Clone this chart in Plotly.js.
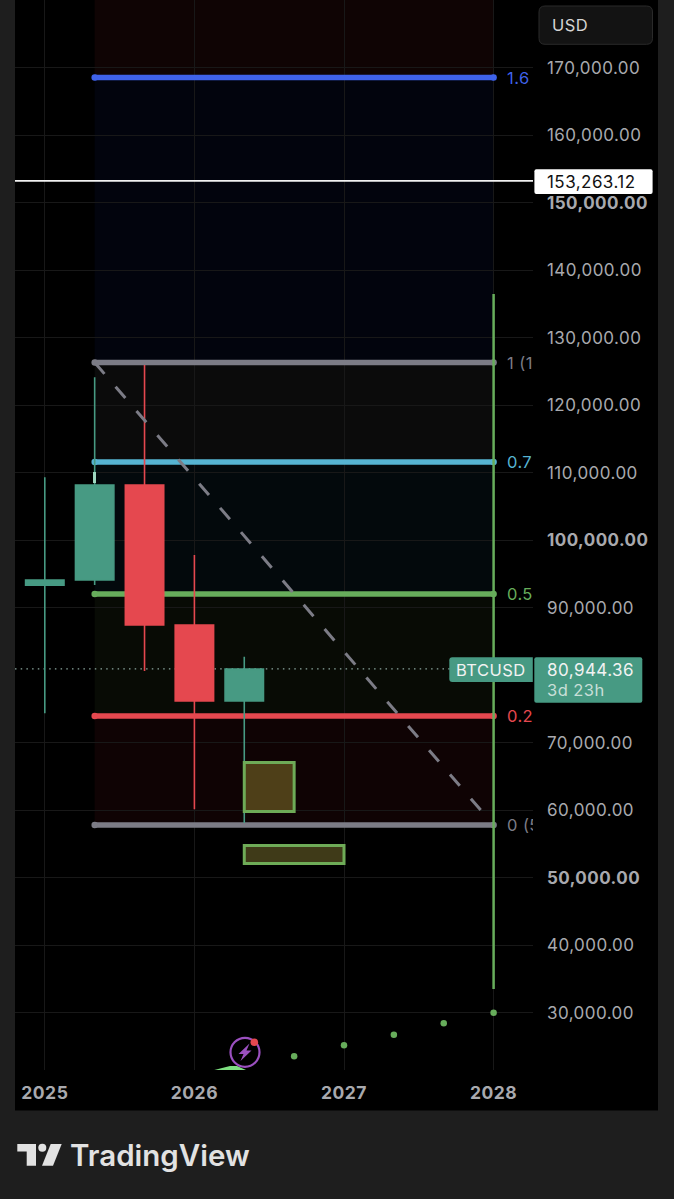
<!DOCTYPE html>
<html>
<head>
<meta charset="utf-8">
<script src="https://cdn.plot.ly/plotly-3.0.1.min.js"></script>
<style>
html,body{margin:0;padding:0;background:#1e1e1e;overflow:hidden}
svg text{font-variant-numeric:tabular-nums}
.ytick text{letter-spacing:.45px}
.xtick text{letter-spacing:.5px}
.textpoint text{letter-spacing:.4px}
.annotation text{letter-spacing:.45px}
.annotation[data-index="5"] text{letter-spacing:0}
</style>
</head>
<body>
<div id="chart" style="width:674px;height:1199px"></div>
<script>
// ---------- data ----------
const barIndex   = [0, 1, 2, 3, 4];
const candleOpen = [93340, 94123, 108200, 87454, 76191];
const candleHigh = [109340, 124160, 125983, 97828, 82756];
const candleLow  = [74368, 93370, 80637, 60142, 58112];
const candleClose= [94123, 108200, 87454, 76191, 80944.36];

const yearTickIndex = [0, 3, 6, 9];
const yearTickLabels = ['2025', '2026', '2027', '2028'];
const priceTicks = [30000,40000,50000,60000,70000,90000,100000,110000,120000,130000,140000,150000,160000,170000];
const boldPriceTicks = [50000, 100000, 150000];

const fibStartIndex = 1, fibEndIndex = 9;
const fibLabels = ['1.6', '1 (1', '0.7', '0.5', '0.2', '0 (5'];
const fibPrices = [168590, 126355, 111600, 92047, 73969, 57815];
const fibColors = ['#3f62ea', '#7c7c86', '#56b4d2', '#67ad5b', '#e5484f', '#7c7c86'];
const fibFillColors = ['#02040d', '#0b0b0b', '#03090c', '#080b05', '#0f0304'];
const fibTopFillColor = '#0f0404';

const lastPrice = 80944.36, horizontalPrice = 153263.12;
const verticalIndex = 9, verticalPrices = [33512, 136505];
const boxA = {x: [4, 5], y: [59816, 67078], fill: '#4e3f18'};
const boxB = {x: [4, 6], y: [52110, 54778], fill: '#3f3a18'};
const dotIndex = [5, 6, 7, 8, 9];
const dotPrices = [23539, 25169, 26740, 28429, 30000];

// ---------- frame ----------
const W = 674, H = 1199, L = 15, R = 533, T = 0, B = 1070;
const px = v => (v - L) / (R - L);
const py = v => (B - v) / (B - T);
const Y_RANGE = [21509, 180074];
const X_RANGE = [-0.5976, 9.79];
const GREEN = '#479a83', RED = '#e5484f', AXIS = '#a8a9ae', GREENLINE = '#67ad5b', GRID = '#181818';
const FIB_LABEL_NUDGE = 320;

function rrect(x0, y0, x1, y1, r, corners) {
  const c = corners || [r, r, r, r];
  return 'M' + px(x0 + c[0]) + ',' + py(y0) +
    ' L' + px(x1 - c[1]) + ',' + py(y0) +
    ' Q' + px(x1) + ',' + py(y0) + ' ' + px(x1) + ',' + py(y0 + c[1]) +
    ' L' + px(x1) + ',' + py(y1 - c[2]) +
    ' Q' + px(x1) + ',' + py(y1) + ' ' + px(x1 - c[2]) + ',' + py(y1) +
    ' L' + px(x0 + c[3]) + ',' + py(y1) +
    ' Q' + px(x0) + ',' + py(y1) + ' ' + px(x0) + ',' + py(y1 - c[3]) +
    ' L' + px(x0) + ',' + py(y0 + c[0]) +
    ' Q' + px(x0) + ',' + py(y0) + ' ' + px(x0 + c[0]) + ',' + py(y0) + ' Z';
}
function poly(points) {
  return 'M' + points.map(p => px(p[0]) + ',' + py(p[1])).join(' L') + ' Z';
}
function paperShape(o) { return Object.assign({xref: 'paper', yref: 'paper', line: {width: 0}}, o); }
function circle(cx, cy, r, o) {
  return paperShape(Object.assign({type: 'circle', x0: px(cx - r), x1: px(cx + r), y0: py(cy + r), y1: py(cy - r)}, o));
}
function label(x, y, text, size, color, extra) {
  return Object.assign({xref: 'paper', yref: 'paper', x: px(x), y: py(y), text: text, showarrow: false,
    xanchor: 'left', yanchor: 'middle', align: 'left',
    font: {family: 'Inter, sans-serif', size: size, color: color}}, extra || {});
}

// ---------- traces ----------
const traces = [];
fibPrices.forEach((p, i) => {
  traces.push({type: 'scatter', mode: 'lines+markers', x: [fibStartIndex, fibEndIndex], y: [p, p],
    line: {color: fibColors[i], width: 5.5}, marker: {color: fibColors[i], size: 6.5}, hoverinfo: 'skip', showlegend: false, zorder: 0});
  traces.push({type: 'scatter', mode: 'text', x: [9.27], y: [p - FIB_LABEL_NUDGE], text: [fibLabels[i]], textposition: 'middle right',
    textfont: {family: 'Inter, sans-serif', size: 16.5, color: fibColors[i]}, cliponaxis: true, hoverinfo: 'skip', showlegend: false, zorder: 0});
});
traces.push({type: 'scatter', mode: 'lines', x: X_RANGE, y: [lastPrice, lastPrice],
  line: {color: '#8ba69e', width: 1.3, dash: '1.5px,4.2px'}, hoverinfo: 'skip', showlegend: false, zorder: 0});
traces.push({type: 'candlestick', x: barIndex, open: candleOpen, high: candleHigh, low: candleLow, close: candleClose,
  increasing: {line: {color: GREEN, width: 1.6}, fillcolor: GREEN},
  decreasing: {line: {color: RED, width: 1.6}, fillcolor: RED},
  whiskerwidth: 0, showlegend: false, zorder: 2});
traces.push({type: 'scatter', mode: 'lines', x: [fibStartIndex, fibEndIndex], y: [fibPrices[1], fibPrices[5]],
  line: {color: '#7c7c86', width: 3, dash: '15px,17px'}, hoverinfo: 'skip', showlegend: false, zorder: 3});
traces.push({type: 'scatter', mode: 'lines', x: [verticalIndex, verticalIndex], y: verticalPrices,
  line: {color: GREENLINE, width: 2.5}, hoverinfo: 'skip', showlegend: false, zorder: 3});
traces.push({type: 'scatter', mode: 'lines', x: X_RANGE, y: [horizontalPrice, horizontalPrice],
  line: {color: '#f2f2f2', width: 1.6}, hoverinfo: 'skip', showlegend: false, zorder: 3});
traces.push({type: 'scatter', mode: 'markers', x: dotIndex, y: dotPrices, cliponaxis: false,
  marker: {color: GREENLINE, size: 6.5}, hoverinfo: 'skip', showlegend: false, zorder: 3});

// ---------- shapes ----------
const shapes = [];
shapes.push(paperShape({type: 'rect', x0: px(15), x1: px(658), y0: py(1110.5), y1: py(0), fillcolor: '#000', layer: 'below'}));
shapes.push({type: 'rect', xref: 'x', yref: 'y', x0: fibStartIndex, x1: fibEndIndex, y0: fibPrices[0], y1: Y_RANGE[1], fillcolor: fibTopFillColor, line: {width: 0}, layer: 'below'});
fibFillColors.forEach((c, i) => shapes.push({type: 'rect', xref: 'x', yref: 'y', x0: fibStartIndex, x1: fibEndIndex,
  y0: fibPrices[i + 1], y1: fibPrices[i], fillcolor: c, line: {width: 0}, layer: 'below'}));
[boxA, boxB].forEach(b => shapes.push({type: 'rect', xref: 'x', yref: 'y', x0: b.x[0], x1: b.x[1], y0: b.y[0], y1: b.y[1],
  fillcolor: b.fill, line: {color: '#6eab57', width: 3}, layer: 'above'}));
shapes.push(paperShape({type: 'rect', x0: px(93), x1: px(96), y0: py(483), y1: py(472), fillcolor: '#9fd8c0', layer: 'above'}));
shapes.push(paperShape({type: 'path', path: rrect(539, 6, 652.5, 44.3, 6), fillcolor: '#131313', line: {color: '#2a2a2a', width: 1}, layer: 'above'}));
shapes.push(paperShape({type: 'path', path: rrect(534.4, 169.3, 652.6, 194, 2), fillcolor: '#fff', layer: 'above'}));
shapes.push(paperShape({type: 'path', path: rrect(449.3, 657.3, 532.8, 682, 3, [3, 0, 0, 3]), fillcolor: GREEN, layer: 'above'}));
shapes.push(paperShape({type: 'path', path: rrect(534.3, 657.3, 642.3, 702.7, 2), fillcolor: GREEN, layer: 'above'}));
shapes.push(paperShape({type: 'path', path: poly([[214.3, 1070], [230, 1066], [237, 1066], [246, 1070]]), fillcolor: '#7ee081', layer: 'above'}));
shapes.push(circle(245, 1052.3, 14.5, {line: {color: '#9b50c0', width: 2.2}, fillcolor: '#000', layer: 'above'}));
shapes.push(paperShape({type: 'path', path: poly([[249.5, 1043.5], [238.5, 1054], [243.5, 1054], [240.5, 1061], [251.5, 1050.5], [246.5, 1050.5]]), fillcolor: '#9b50c0', layer: 'above'}));
shapes.push(circle(254.3, 1042.3, 3.8, {fillcolor: RED, layer: 'above'}));
const LOGO = '#e2e2e2';
shapes.push(paperShape({type: 'path', path: poly([[17.3, 1144], [36, 1144], [36, 1165.7], [26.7, 1165.7], [26.7, 1151.5], [17.3, 1151.5]]), fillcolor: LOGO, layer: 'above'}));
shapes.push(circle(42.3, 1147.8, 4, {fillcolor: LOGO, layer: 'above'}));
shapes.push(paperShape({type: 'path', path: poly([[50.7, 1144], [61.7, 1144], [53, 1165.7], [42, 1165.7]]), fillcolor: LOGO, layer: 'above'}));

// ---------- annotations ----------
const annotations = [
  label(549.5, 25.5, 'USD', 16.5, '#d4d4d4'),
  label(545, 181.5, '153,263.12', 17, '#111'),
  label(453.5, 670, 'BTCUSD', 16.5, '#f2f2f2'),
  label(545, 669.5, '80,944.36', 17, '#f2f2f2'),
  label(545, 689.5, '3d 23h', 16.5, '#c8dfd8'),
  {xref: 'paper', yref: 'paper', x: px(68), y: py(1155), text: 'TradingView', showarrow: false, xanchor: 'left', yanchor: 'middle',
   font: {family: 'Inter, sans-serif', size: 29.5, color: LOGO, weight: 600}}
];

const layout = {
  width: W, height: H,
  margin: {l: L, r: W - R, t: T, b: H - B, pad: 0},
  paper_bgcolor: '#1e1e1e', plot_bgcolor: 'rgba(0,0,0,0)',
  showlegend: false, dragmode: false, boxgap: 0.23, boxgroupgap: 0,
  xaxis: {type: 'linear', range: X_RANGE, tickmode: 'array', tickvals: yearTickIndex,
    ticktext: yearTickLabels.map(t => '<b>' + t + '</b>'), showgrid: true, gridcolor: GRID, gridwidth: 1,
    zeroline: false, showline: false, ticks: '', ticklabelstandoff: 10,
    tickfont: {family: 'Inter, sans-serif', size: 17.5, color: AXIS}, rangeslider: {visible: false}, fixedrange: true},
  yaxis: {type: 'linear', range: Y_RANGE, side: 'right', tickmode: 'array', tickvals: priceTicks,
    ticktext: priceTicks.map(v => {
      const s = v.toLocaleString('en-US', {minimumFractionDigits: 2});
      return boldPriceTicks.includes(v) ? '<b>' + s + '</b>' : s;
    }), showgrid: true, gridcolor: GRID, gridwidth: 1, zeroline: false, showline: false, ticks: '',
    ticklabelstandoff: 13, tickfont: {family: 'Inter, sans-serif', size: 17, color: AXIS}, fixedrange: true},
  shapes: shapes, annotations: annotations
};
Plotly.newPlot('chart', traces, layout, {displayModeBar: false, staticPlot: true});
</script>
</body>
</html>
